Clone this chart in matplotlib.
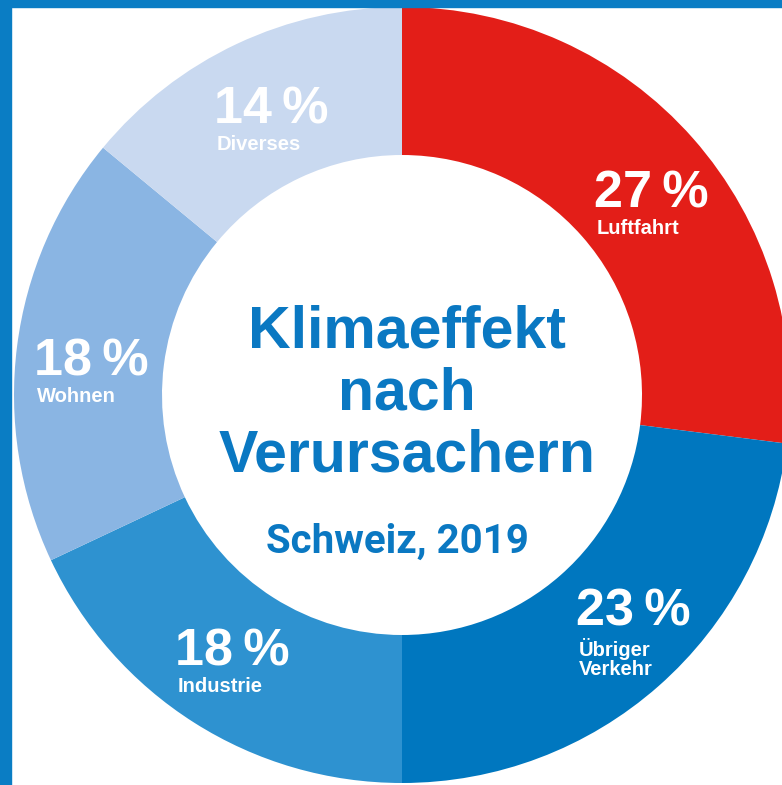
import matplotlib
matplotlib.use("Agg")
import matplotlib.pyplot as plt
from matplotlib.patches import Rectangle

# Data
categories = ["Luftfahrt", "Übriger\nVerkehr", "Industrie", "Wohnen", "Diverses"]
values = [27, 23, 18, 18, 14]
colors = ["#E31E18", "#0077BF", "#2E92D0", "#8AB5E3", "#C9D9F0"]
title_lines = ["Klimaeffekt", "nach", "Verursachern"]
subtitle = "Schweiz, 2019"

W, H = 782, 785
fig = plt.figure(figsize=(W / 100, H / 100), dpi=100)
ax = fig.add_axes([0, 0, 1, 1])

cx, cy = 402, H - 395
ax.pie(values, colors=colors, startangle=90, counterclock=False,
       radius=388, center=(cx, cy), frame=True,
       wedgeprops=dict(width=148, linewidth=0, antialiased=True))
ax.set_xlim(0, W)
ax.set_ylim(0, H)
ax.set_aspect("auto")
ax.axis("off")

# blue frame (left and top)
border = "#0A7DC4"
fig.patches.append(Rectangle((0, 0), 11 / W, 1, transform=fig.transFigure,
                             color=border, zorder=10))
fig.patches.append(Rectangle((0, 1 - 7 / H), 1, 7 / H, transform=fig.transFigure,
                             color=border, zorder=10))

fam = ["Liberation Sans", "DejaVu Sans"]
title_color = "#0A78C2"

# center title
for line, yb in zip(title_lines, [347, 410, 472]):
    ax.text(407, H - yb, line, ha="center", va="baseline", fontsize=42.5,
            fontweight="bold", family=fam, color=title_color)
ax.text(397, H - 553, subtitle, ha="center", va="baseline", fontsize=29,
        fontweight="bold", family=["Roboto", "DejaVu Sans"], color=title_color)

# segment labels: (x, pct baseline, first label baseline)
label_pos = [(594, 208, 234), (576, 625, 656), (175, 665, 692),
             (34, 375, 402), (214, 123, 150)]
for cat, v, (x, yp, yl) in zip(categories, values, label_pos):
    ax.text(x, H - yp, f"{v}\u2009%", ha="left", va="baseline", fontsize=37.5,
            fontweight="bold", family=fam, color="white")
    for i, part in enumerate(cat.split("\n")):
        ax.text(x + 3, H - (yl + 19 * i), part, ha="left", va="baseline",
                fontsize=14.5, fontweight="bold", family=fam, color="white")

fig.savefig("out.png", dpi=100)
